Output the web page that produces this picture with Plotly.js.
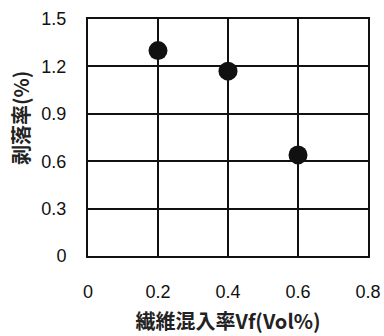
<!DOCTYPE html>
<html>
<head>
<meta charset="utf-8">
<script src="https://cdn.plot.ly/plotly-3.0.1.min.js"></script>
<style>
  html, body { margin: 0; padding: 0; background: #fff; }
  #chart { width: 384px; height: 336px; }
</style>
</head>
<body>
<div id="chart"></div>
<script>
// Fiber content vs. spalling rate
const fiberContent = [0.2, 0.4, 0.6];
const spallingRate = [1.30, 1.17, 0.64];
const xTicks = [0, 0.2, 0.4, 0.6, 0.8];
const xTickLabels = ['0', '0.2', '0.4', '0.6', '0.8'];
const yTicks = [0, 0.3, 0.6, 0.9, 1.2, 1.5];
const yTickLabels = ['0', '0.3', '0.6', '0.9', '1.2', '1.5'];
const xTitle = '繊維混入率Vf(Vol%)';
const yTitle = '剥落率(%)';

const tickFont = { family: 'Liberation Sans, Arial, sans-serif', size: 18, color: '#111' };
const titleFont = { family: 'Noto Sans CJK JP, sans-serif', size: 20, color: '#222', weight: 700 };

const trace = {
  x: fiberContent,
  y: spallingRate,
  type: 'scatter',
  mode: 'markers',
  marker: { color: '#111', size: 19, line: { width: 0 } },
  hoverinfo: 'skip'
};

const layout = {
  width: 384,
  height: 336,
  margin: { l: 88, r: 16, t: 19, b: 80 },
  paper_bgcolor: '#fff',
  plot_bgcolor: '#fff',
  showlegend: false,
  xaxis: {
    range: [0, 0.8],
    tickvals: xTicks,
    ticktext: xTickLabels,
    tickfont: tickFont,
    ticks: '',
    ticklabelstandoff: 18,
    showgrid: true,
    gridcolor: '#111',
    gridwidth: 2,
    zeroline: false,
    showline: true,
    linecolor: '#111',
    linewidth: 2,
    mirror: true,
    fixedrange: true,
    title: { text: xTitle, font: titleFont, standoff: 14 }
  },
  yaxis: {
    range: [0, 1.5],
    tickvals: yTicks,
    ticktext: yTickLabels,
    tickfont: tickFont,
    ticks: '',
    ticklabelstandoff: 16,
    showgrid: true,
    gridcolor: '#111',
    gridwidth: 2,
    zeroline: false,
    showline: true,
    linecolor: '#111',
    linewidth: 2,
    mirror: true,
    fixedrange: true
  },
  // vertical axis title, placed in the left margin
  annotations: [{
    text: yTitle,
    xref: 'paper', yref: 'paper',
    x: -68 / 280, y: (256 - 118) / 237,
    xanchor: 'center', yanchor: 'middle',
    textangle: -90,
    showarrow: false,
    font: titleFont
  }]
};

Plotly.newPlot('chart', [trace], layout, { staticPlot: true, displayModeBar: false });
</script>
</body>
</html>
